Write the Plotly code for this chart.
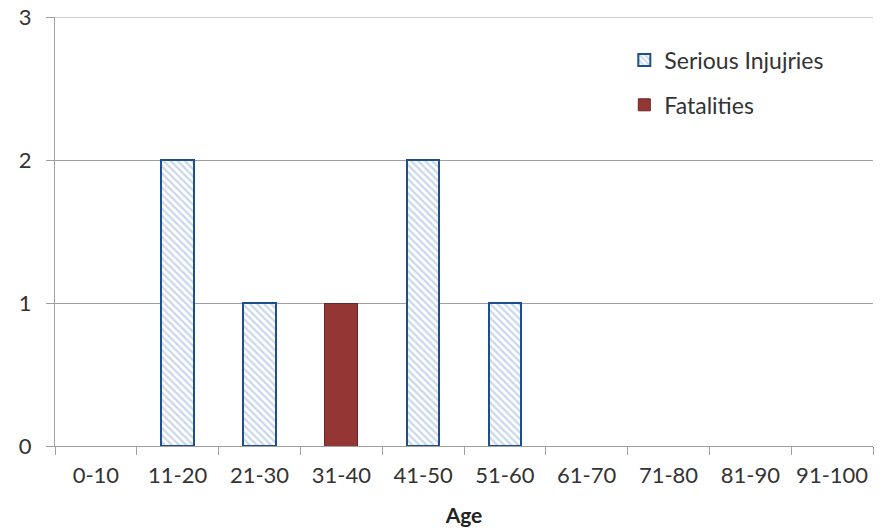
import plotly.graph_objects as go

categories = ["0-10", "11-20", "21-30", "31-40", "41-50", "51-60", "61-70", "71-80", "81-90", "91-100"]
serious_injuries = [None, 2, 1, None, 2, 1, None, None, None, None]
fatalities = [None, None, None, 1, None, None, None, None, None, None]
y_ticks = [0, 1, 2, 3]

fig = go.Figure()
fig.add_trace(go.Bar(
    x=categories, y=serious_injuries, name="Serious Injujries", legendgroup="a",
    marker=dict(color="white", line=dict(color="#1F4E8C", width=2),
                pattern=dict(shape="\\", fgcolor="#8FB0DA", bgcolor="white", size=5, solidity=0.45)),
))
fig.add_trace(go.Bar(
    x=categories, y=fatalities, name="Fatalities", legendgroup="b",
    marker=dict(color="#933634", line=dict(color="#6B2523", width=1)),
))

# top gridline (plotly skips the gridline at the range edge)
fig.add_shape(type="line", xref="paper", x0=0, x1=1, yref="y", y0=y_ticks[-1], y1=y_ticks[-1],
              line=dict(color="#A0A0A0", width=1))

fig.update_layout(
    barmode="stack", bargap=0.6,
    width=883, height=530,
    margin=dict(l=55, r=10, t=17, b=84),
    paper_bgcolor="white", plot_bgcolor="white",
    font=dict(family="Lato, Open Sans, sans-serif", size=22, color="#333333"),
    legend=dict(x=0.696, y=0.95, xanchor="left", yanchor="top", font=dict(size=23),
                bgcolor="rgba(0,0,0,0)", tracegroupgap=12, traceorder="grouped",
                itemwidth=30),
    xaxis=dict(title=dict(text="<b>Age</b>", font=dict(size=21, color="#222"), standoff=20),
               automargin=False,
               showline=True, linecolor="#A0A0A0", linewidth=1,
               ticks="outside", tickson="boundaries", ticklen=8, tickcolor="#A0A0A0",
               ticklabelstandoff=10,
               showgrid=False),
    yaxis=dict(range=[0, 3], tickvals=y_ticks, showline=True, linecolor="#A0A0A0",
               automargin=False,
               ticks="outside", ticklen=8, tickcolor="#A0A0A0",
               ticklabelstandoff=10,
               gridcolor="#A0A0A0", gridwidth=1, zeroline=False),
)

fig.write_html("out.html", config={"displayModeBar": False},
               post_script="document.body.style.margin='0';")
